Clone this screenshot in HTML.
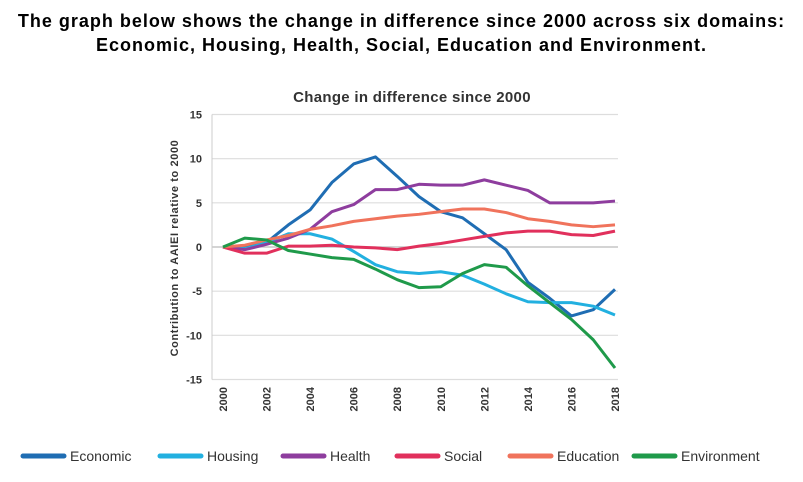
<!DOCTYPE html>
<html><head><meta charset="utf-8"><style>
body{margin:0;background:#fff;width:803px;height:482px;overflow:hidden;font-family:"Liberation Sans",sans-serif}
.t{position:absolute;left:0;width:803px;text-align:center;font-weight:bold;font-size:18px;letter-spacing:1px;color:#000;white-space:nowrap}
</style></head><body>
<div class="t" style="top:11px">The graph below shows the change in difference since 2000 across six domains:</div>
<div class="t" style="top:35px">Economic, Housing, Health, Social, Education and Environment.</div>
<svg id="c" width="803" height="482" style="position:absolute;left:0;top:0"></svg>
<script>
const years=[2000,2001,2002,2003,2004,2005,2006,2007,2008,2009,2010,2011,2012,2013,2014,2015,2016,2017,2018];
const xTicks=[2000,2002,2004,2006,2008,2010,2012,2014,2016,2018];
const yTicks=[15,10,5,0,-5,-10,-15];
const seriesNames=["Economic","Housing","Health","Social","Education","Environment"];
const economic=[0,0,0.5,2.5,4.2,7.3,9.4,10.2,8,5.7,4,3.3,1.5,-0.3,-4,-5.8,-7.8,-7.1,-4.8];
const housing=[0,-0.2,0.5,1.5,1.5,0.9,-0.5,-2,-2.8,-3,-2.8,-3.2,-4.2,-5.3,-6.2,-6.3,-6.3,-6.7,-7.7];
const health=[0,-0.3,0.3,1,2,4,4.8,6.5,6.5,7.1,7,7,7.6,7,6.4,5,5,5,5.2];
const social=[0,-0.7,-0.7,0.1,0.1,0.2,0,-0.1,-0.3,0.1,0.4,0.8,1.2,1.6,1.8,1.8,1.4,1.3,1.8];
const education=[0,0.2,0.8,1.3,2,2.4,2.9,3.2,3.5,3.7,4,4.3,4.3,3.9,3.2,2.9,2.5,2.3,2.5];
const environment=[0,1,0.8,-0.4,-0.8,-1.2,-1.4,-2.5,-3.7,-4.6,-4.5,-3,-2,-2.3,-4.4,-6.3,-8.2,-10.5,-13.7];
const allSeries=[economic,housing,health,social,education,environment];
const colors=["#1f6db3","#22b0e0","#8e3d9e","#e1305c","#f0735c","#1f9a4a"];
const svg=document.getElementById('c');const NS="http://www.w3.org/2000/svg";
const X=v=>223+(v-2000)*(615-223)/18;
const Y=v=>247-v*(378-113)/30;
function mk(t,a,txt){const e=document.createElementNS(NS,t);for(const k in a)e.setAttribute(k,a[k]);if(txt!=null)e.textContent=txt;svg.appendChild(e);return e;}
let e=mk('text',{x:412,y:102,'text-anchor':'middle','font-size':15,'font-weight':'bold',fill:'#333','letter-spacing':0.3},'Change in difference since 2000');


yTicks.forEach(v=>{
 const g=mk('line',{x1:212,x2:618,y1:Y(v),y2:Y(v),stroke:v==0?'#bbb':'#ddd','stroke-width':1.2});
 
 
 const t=mk('text',{x:202,y:Y(v)+4,'text-anchor':'end','font-size':11,'font-weight':'bold',fill:'#333'},String(v));
 
 
});
e=mk('line',{x1:212,x2:212,y1:Y(15),y2:Y(-15),stroke:'#ccc'});


xTicks.forEach(v=>{
 const t=mk('text',{x:X(v)+4,y:387,'text-anchor':'end','font-size':11,'font-weight':'bold',fill:'#333',transform:`rotate(-90 ${X(v)+4} 387)`},String(v));
 
 
});
e=mk('text',{x:178,y:248,'text-anchor':'middle','font-size':11,'font-weight':'bold',fill:'#333','letter-spacing':0.6,transform:'rotate(-90 178 248)'},'Contribution to AAIEI relative to 2000');


allSeries.forEach((s,i)=>{
 const p=mk('polyline',{points:s.map((v,j)=>X(years[j])+','+Y(v)).join(' '),fill:'none',stroke:colors[i],'stroke-width':3,'stroke-linejoin':'round'});
 
 
});
const lx=[23,160,283,397,510,634];
seriesNames.forEach((n,i)=>{
 const l=mk('line',{x1:lx[i],x2:lx[i]+41,y1:456,y2:456,stroke:colors[i],'stroke-width':5,'stroke-linecap':'round'});
 
 
 const t=mk('text',{x:lx[i]+47,y:461,'font-size':14,fill:'#333'},n);
 
 
});
</script>
</body></html>
